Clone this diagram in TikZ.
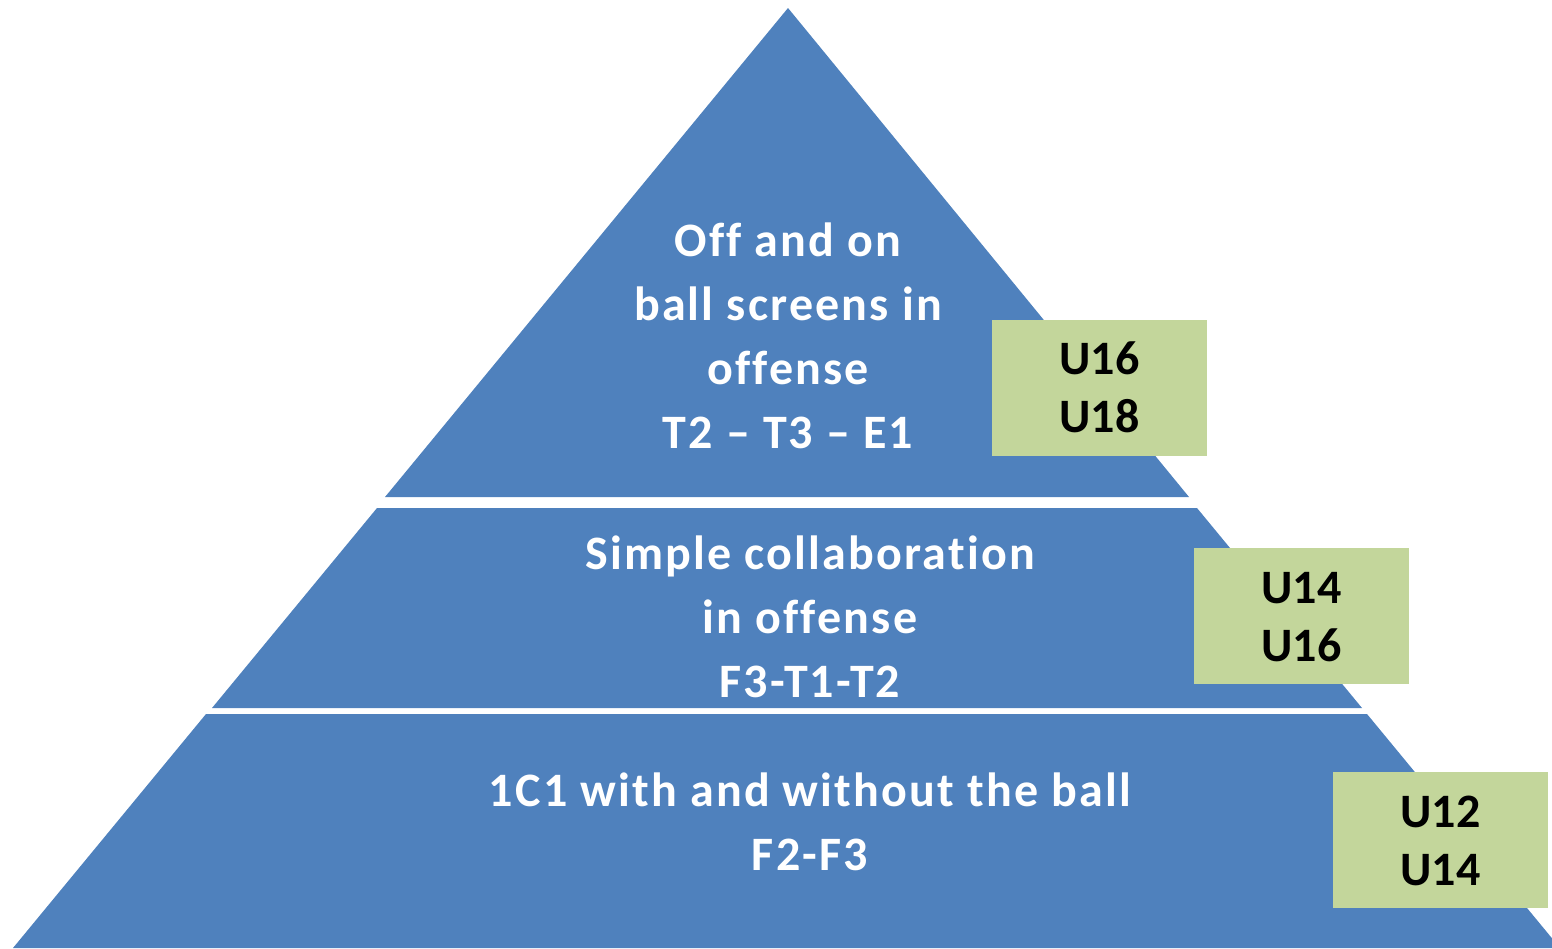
\documentclass[tikz,border=0pt]{standalone}
\usepackage{fontspec}
\setmainfont{Carlito}[Ligatures={TeX,NoCommon}]
\newfontfamily\pyrfont{Carlito}[LetterSpace=4.6, Ligatures={TeX,NoCommon}]
\definecolor{pyrblue}{HTML}{4F81BD}
\definecolor{agegreen}{HTML}{C3D69B}
\newcommand\boxstrut{\rule[-13pt]{0pt}{58pt}}
\tikzset{
  level/.style={fill=pyrblue, draw=none},
  leveltext/.style={text=white, align=center, font=\pyrfont\fontsize{48}{64}\selectfont\bfseries, inner sep=0pt},
  agebox/.style={fill=agegreen, draw=none, minimum width=215pt, minimum height=136pt, inner sep=0pt,
    align=center, font=\fontsize{48}{58}\selectfont\bfseries, text=black},
}
\begin{document}
\begin{tikzpicture}[x=1pt,y=-1pt]
\useasboundingbox (0,0) rectangle (1552,948);
\clip (0,0) rectangle (1552,948);
% pyramid levels
\fill[level] (788,8) -- (1189,497) -- (385,497) -- cycle;
\fill[level] (377,508) -- (1197,508) -- (1362,708) -- (212,708) -- cycle;
\fill[level] (206,714) -- (1367,714) -- (1560,948) -- (13,948) -- cycle;
% level texts
\node[leveltext] (top) at (788,339.2) {\strut Off and on\\\strut ball screens in\\\strut offense\\\strut T2 – T3 – E1};
\node[leveltext] (mid) at (810,620.2) {\strut Simple collaboration\\\strut in offense\\\strut F3-T1-T2};
\node[leveltext] (bot) at (810,825.2) {\strut 1C1 with and without the ball\\\strut F2-F3};
% age boxes
\node[agebox] (age1) at (1099.5,387.5) {\boxstrut U16\\\boxstrut U18};
\node[agebox] (age2) at (1301.5,616) {\boxstrut U14\\\boxstrut U16};
\node[agebox] (age3) at (1440.5,840) {\boxstrut U12\\\boxstrut U14};
\end{tikzpicture}
\end{document}
